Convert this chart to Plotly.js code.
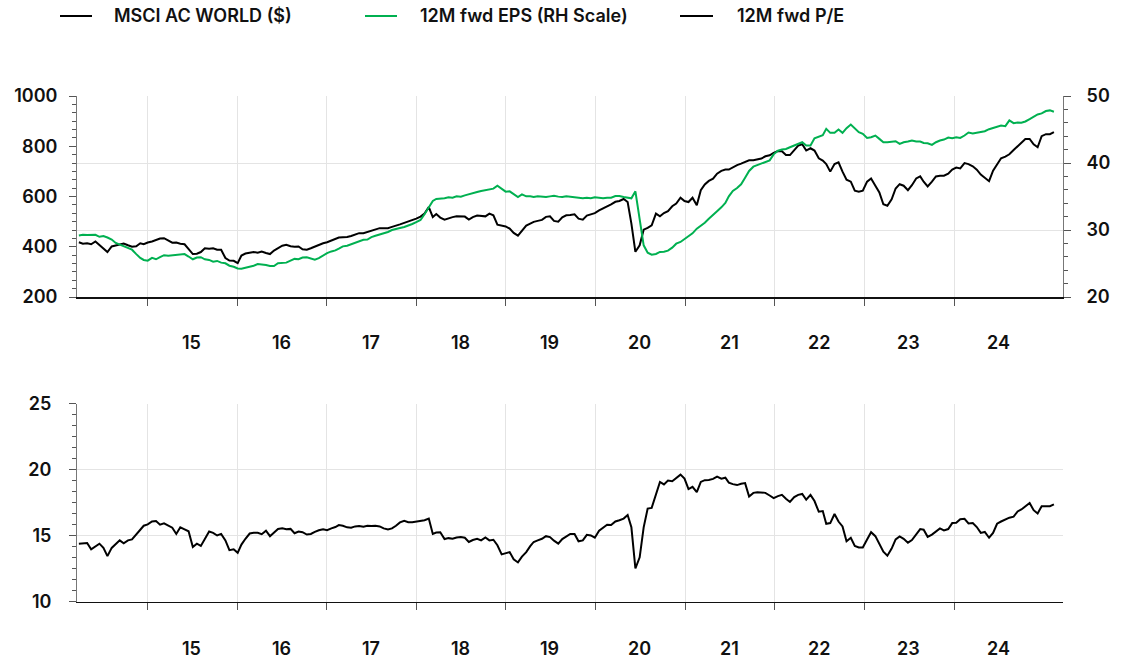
<!DOCTYPE html>
<html>
<head>
<meta charset="utf-8">
<script src="https://cdn.plot.ly/plotly-3.0.1.min.js"></script>
<style>
  html, body { margin: 0; padding: 0; background: #fff; }
  #chart { width: 1122px; height: 659px; }
</style>
</head>
<body>
<div id="chart"></div>
<script>
// Semi-monthly observation dates, 1 Jul 2014 .. 1 Jul 2024 (1st and 16th of each month)
const dates = [];
for (let k = 0; k <= 240; k++) {
  const m = 6 + Math.floor(k / 2);
  const yr = 2014 + Math.floor(m / 12);
  const mo = (m % 12) + 1;
  dates.push(yr + '-' + String(mo).padStart(2, '0') + '-' + (k % 2 ? '16' : '01'));
}

// MSCI AC World ($), left scale
const msciWorld = [
  418,412,414,410,421,408,392,379,401,406,
  410,413,406,400,402,414,410,417,421,427,
  433,434,426,416,417,412,410,392,371,372,
  379,394,392,394,388,388,355,345,344,335,
  365,373,375,379,376,381,375,371,385,394,
  404,408,402,400,401,390,388,394,401,408,
  414,418,425,431,437,438,439,443,447,454,
  454,459,462,466,474,474,474,479,483,489,
  495,500,507,512,520,532,558,518,530,516,
  508,514,518,521,520,520,508,518,524,522,
  521,532,525,488,484,481,472,455,444,465,
  484,492,499,503,507,519,521,503,500,517,
  525,526,529,512,508,524,529,534,545,552,
  561,569,579,582,590,578,492,380,406,468,
  475,485,532,521,534,542,561,572,595,582,
  578,595,565,625,648,662,671,691,702,707,
  707,717,725,731,739,744,744,749,751,760,
  764,774,781,780,765,765,787,803,808,783,
  792,783,752,743,729,699,729,736,699,667,
  659,623,619,623,659,672,643,616,569,563,
  589,632,649,643,625,645,672,680,659,640,
  659,680,683,683,691,707,715,712,733,729,
  720,707,687,675,661,703,729,752,759,768,
  785,799,816,829,829,808,796,840,848,848,856
];

// 12M forward EPS, right scale
const fwdEps = [
  29.19,29.29,29.24,29.24,29.29,28.98,29.09,28.88,28.58,28.07,
  27.82,27.56,27.41,27.06,26.40,25.84,25.53,25.43,25.84,25.63,
  25.94,26.24,26.14,26.19,26.29,26.35,26.40,26.04,25.63,25.89,
  25.94,25.63,25.53,25.28,25.38,25.13,25.03,24.67,24.52,24.26,
  24.21,24.37,24.52,24.67,24.92,24.87,24.77,24.62,24.62,25.03,
  25.03,25.13,25.43,25.69,25.63,25.89,25.94,25.74,25.58,25.79,
  26.24,26.55,26.80,26.95,27.21,27.56,27.66,27.87,28.12,28.27,
  28.53,28.58,28.93,29.14,29.34,29.49,29.70,30.00,30.10,30.30,
  30.45,30.65,30.90,31.19,31.49,32.34,33.33,34.33,34.63,34.63,
  34.73,34.88,34.83,35.02,34.98,35.17,35.37,35.52,35.67,35.82,
  35.92,36.02,36.17,36.62,36.12,35.72,35.77,35.42,34.93,35.32,
  35.02,35.02,34.93,35.02,34.98,34.93,35.02,35.12,34.98,34.93,
  35.02,34.93,34.88,34.83,34.73,34.83,34.73,34.88,34.78,34.73,
  34.83,34.83,35.07,35.07,34.93,34.88,34.73,35.77,31.94,27.71,
  26.62,26.32,26.42,26.72,26.77,26.92,27.36,27.96,28.21,28.61,
  29.05,29.50,30.20,30.60,31.09,31.69,32.19,32.79,33.38,34.03,
  35.02,35.82,36.27,36.82,37.81,38.81,39.45,39.70,39.90,40.15,
  40.40,41.29,41.84,42.00,42.10,42.35,42.60,42.85,43.10,42.60,
  42.60,43.70,43.90,44.15,45.10,44.50,44.50,45.00,44.50,45.20,
  45.75,45.20,44.60,44.35,43.75,43.85,44.10,43.60,43.10,43.10,
  43.20,43.25,42.85,43.10,43.20,43.35,43.20,43.20,43.00,42.95,
  42.70,43.10,43.35,43.50,43.80,43.70,43.85,43.75,44.10,44.55,
  44.40,44.50,44.60,44.75,45.05,45.20,45.40,45.60,45.50,46.35,
  45.95,46.05,46.00,46.20,46.55,46.85,47.25,47.40,47.75,47.85,47.65
];

// 12M forward P/E
const fwdPE = [
  14.38,14.38,14.43,13.96,14.21,14.38,14.06,13.44,14.06,14.31,
  14.63,14.41,14.63,14.70,15.07,15.42,15.74,15.84,16.06,16.09,
  15.82,15.92,15.74,15.59,15.12,15.62,15.47,15.32,14.13,14.38,
  14.21,14.70,15.30,15.20,15.00,15.12,14.63,13.89,13.96,13.69,
  14.31,14.75,15.15,15.20,15.20,15.10,15.37,14.95,15.20,15.50,
  15.54,15.47,15.50,15.17,15.30,15.25,15.07,15.12,15.27,15.40,
  15.47,15.40,15.54,15.64,15.79,15.74,15.62,15.59,15.69,15.72,
  15.67,15.74,15.72,15.74,15.69,15.54,15.45,15.54,15.74,15.99,
  16.11,16.01,16.01,16.06,16.16,16.16,16.28,15.12,15.22,15.25,
  14.73,14.80,14.75,14.85,14.88,14.83,14.51,14.66,14.75,14.63,
  14.85,14.63,14.68,14.26,13.57,13.65,13.74,13.20,12.96,13.40,
  13.74,14.19,14.51,14.63,14.75,14.95,14.88,14.61,14.38,14.73,
  14.93,15.12,15.12,14.56,14.63,15.05,15.00,14.83,15.37,15.62,
  15.81,15.79,16.06,16.16,16.28,16.55,15.62,12.50,13.35,15.62,
  17.04,17.09,18.13,19.06,18.87,19.16,19.11,19.36,19.61,19.31,
  18.52,18.69,18.28,19.06,19.19,19.21,19.29,19.46,19.31,19.38,
  19.01,18.89,18.82,18.92,18.97,17.96,18.23,18.28,18.28,18.23,
  18.03,17.83,17.98,18.08,17.78,17.54,17.91,18.08,18.15,17.71,
  18.08,17.61,16.80,16.85,15.89,15.94,16.63,16.06,15.69,14.56,
  14.83,14.21,14.09,14.09,14.70,15.25,14.95,14.33,13.77,13.47,
  14.01,14.70,14.93,14.75,14.46,14.66,15.10,15.49,15.44,14.90,
  15.07,15.34,15.54,15.39,15.49,15.94,15.96,16.23,16.26,15.91,
  15.94,15.64,15.20,15.27,14.83,15.20,15.89,16.06,16.23,16.35,
  16.43,16.82,16.97,17.22,17.46,16.92,16.67,17.22,17.24,17.22,17.36
];

// Axis tick marks (category-style ticks) and the year labels placed between them
const tickDates = ['2015-03-16','2016-02-14','2017-01-14','2017-12-17','2018-11-16',
                   '2019-10-20','2020-09-18','2021-08-21','2022-07-21','2023-06-23'];
const yearLabels = ['15','16','17','18','19','20','21','22','23','24'];
const yearLabelDates = ['2015-08-28','2016-07-28','2017-06-29','2018-05-30','2019-05-01',
                        '2020-04-01','2021-03-03','2022-01-31','2023-01-02','2023-12-05'];

const seriesNames = ['MSCI AC WORLD ($)', '12M fwd EPS (RH Scale)', '12M fwd P/E'];
const seriesColors = ['#000000', '#00B050', '#000000'];

const W = 1122, H = 659;
const FONT = 'Inter, "Open Sans", sans-serif';
const tickFont = {family: FONT, size: 18, color: '#111', weight: 600};
const xRange = ['2014-06-24', '2024-08-04'];
const xDom = [77 / W, 1063 / W];
const topDom = [1 - 297 / H, 1 - 96 / H];
const botDom = [1 - 601.5 / H, 1 - 403.5 / H];
const GRID = '#e4e4e4';

function xAxis(anchor) {
  return {
    domain: xDom, anchor: anchor, type: 'date', range: xRange,
    tickmode: 'array', tickvals: tickDates, ticktext: tickDates.map(() => ''),
    ticks: 'outside', ticklen: 7, tickwidth: 1, tickcolor: '#555',
    showline: true, linecolor: '#111', linewidth: 1.5,
    showgrid: true, gridcolor: GRID, gridwidth: 1, zeroline: false
  };
}
function yAxis(o) {
  return Object.assign({
    ticks: 'outside', ticklen: 7, tickwidth: 1, tickcolor: '#555',
    showline: true, linecolor: '#777', linewidth: 1,
    zeroline: false, tickfont: tickFont, automargin: false
  }, o);
}

const traces = [
  {x: dates, y: msciWorld, name: seriesNames[0], type: 'scatter', mode: 'lines',
   xaxis: 'x', yaxis: 'y', line: {color: seriesColors[0], width: 2}},
  {x: dates, y: fwdEps, name: seriesNames[1], type: 'scatter', mode: 'lines',
   xaxis: 'x', yaxis: 'y2', line: {color: seriesColors[1], width: 2}},
  {x: dates, y: fwdPE, name: seriesNames[2], type: 'scatter', mode: 'lines',
   xaxis: 'x2', yaxis: 'y3', line: {color: seriesColors[2], width: 2}}
];

const annotations = [];
yearLabels.forEach((t, i) => {
  annotations.push({text: t, x: yearLabelDates[i], xref: 'x', y: 1 - 342 / H, yref: 'paper',
    showarrow: false, xanchor: 'center', yanchor: 'middle', font: tickFont});
  annotations.push({text: t, x: yearLabelDates[i], xref: 'x2', y: 1 - 648 / H, yref: 'paper',
    showarrow: false, xanchor: 'center', yanchor: 'middle', font: tickFont});
});

// Legend drawn along the top
const legendLine = [[60, 92], [365, 397], [680, 713]];
const legendText = [112, 418, 735];
const legendY = 1 - 16 / H;
const shapes = [];
seriesNames.forEach((n, i) => {
  shapes.push({type: 'line', xref: 'paper', yref: 'paper',
    x0: legendLine[i][0] / W, x1: legendLine[i][1] / W, y0: legendY, y1: legendY,
    line: {color: seriesColors[i], width: 2}});
  annotations.push({text: n, x: legendText[i] / W, xref: 'paper', y: legendY, yref: 'paper',
    showarrow: false, xanchor: 'left', yanchor: 'middle',
    font: {family: FONT, size: 18, color: '#111', weight: 600}});
});

const layout = {
  width: W, height: H,
  margin: {l: 0, r: 0, t: 0, b: 0},
  paper_bgcolor: '#fff', plot_bgcolor: '#fff',
  showlegend: false,
  font: {family: FONT, color: '#111'},
  xaxis: xAxis('y'),
  xaxis2: xAxis('y3'),
  yaxis: yAxis({domain: topDom, anchor: 'x', range: [200, 1000], tick0: 200, dtick: 200,
    showgrid: false, ticklabelstandoff: 8,
    minor: {tick0: 200, dtick: 200 / 6, ticks: 'outside', ticklen: 4, tickcolor: '#555', showgrid: false}}),
  yaxis2: yAxis({overlaying: 'y', side: 'right', anchor: 'x', range: [20, 50], tick0: 20, dtick: 10,
    showgrid: true, gridcolor: GRID, ticklabelstandoff: 12,
    minor: {tick0: 20, dtick: 2, ticks: 'outside', ticklen: 4, tickcolor: '#555', showgrid: false}}),
  yaxis3: yAxis({domain: botDom, anchor: 'x2', range: [10, 25], tick0: 10, dtick: 5,
    showgrid: true, gridcolor: GRID, ticklabelstandoff: 14,
    minor: {tick0: 10, dtick: 5 / 6, ticks: 'outside', ticklen: 4, tickcolor: '#555', showgrid: false}}),
  yaxis4: yAxis({overlaying: 'y3', side: 'right', anchor: 'x2', range: [10, 25], tick0: 10, dtick: 5,
    showgrid: false, ticklabelstandoff: 12,
    minor: {tick0: 10, dtick: 5 / 6, ticks: 'outside', ticklen: 4, tickcolor: '#555', showgrid: false}}),
  annotations: annotations,
  shapes: shapes
};

Plotly.newPlot('chart', traces, layout, {displayModeBar: false, staticPlot: true});
</script>
</body>
</html>
